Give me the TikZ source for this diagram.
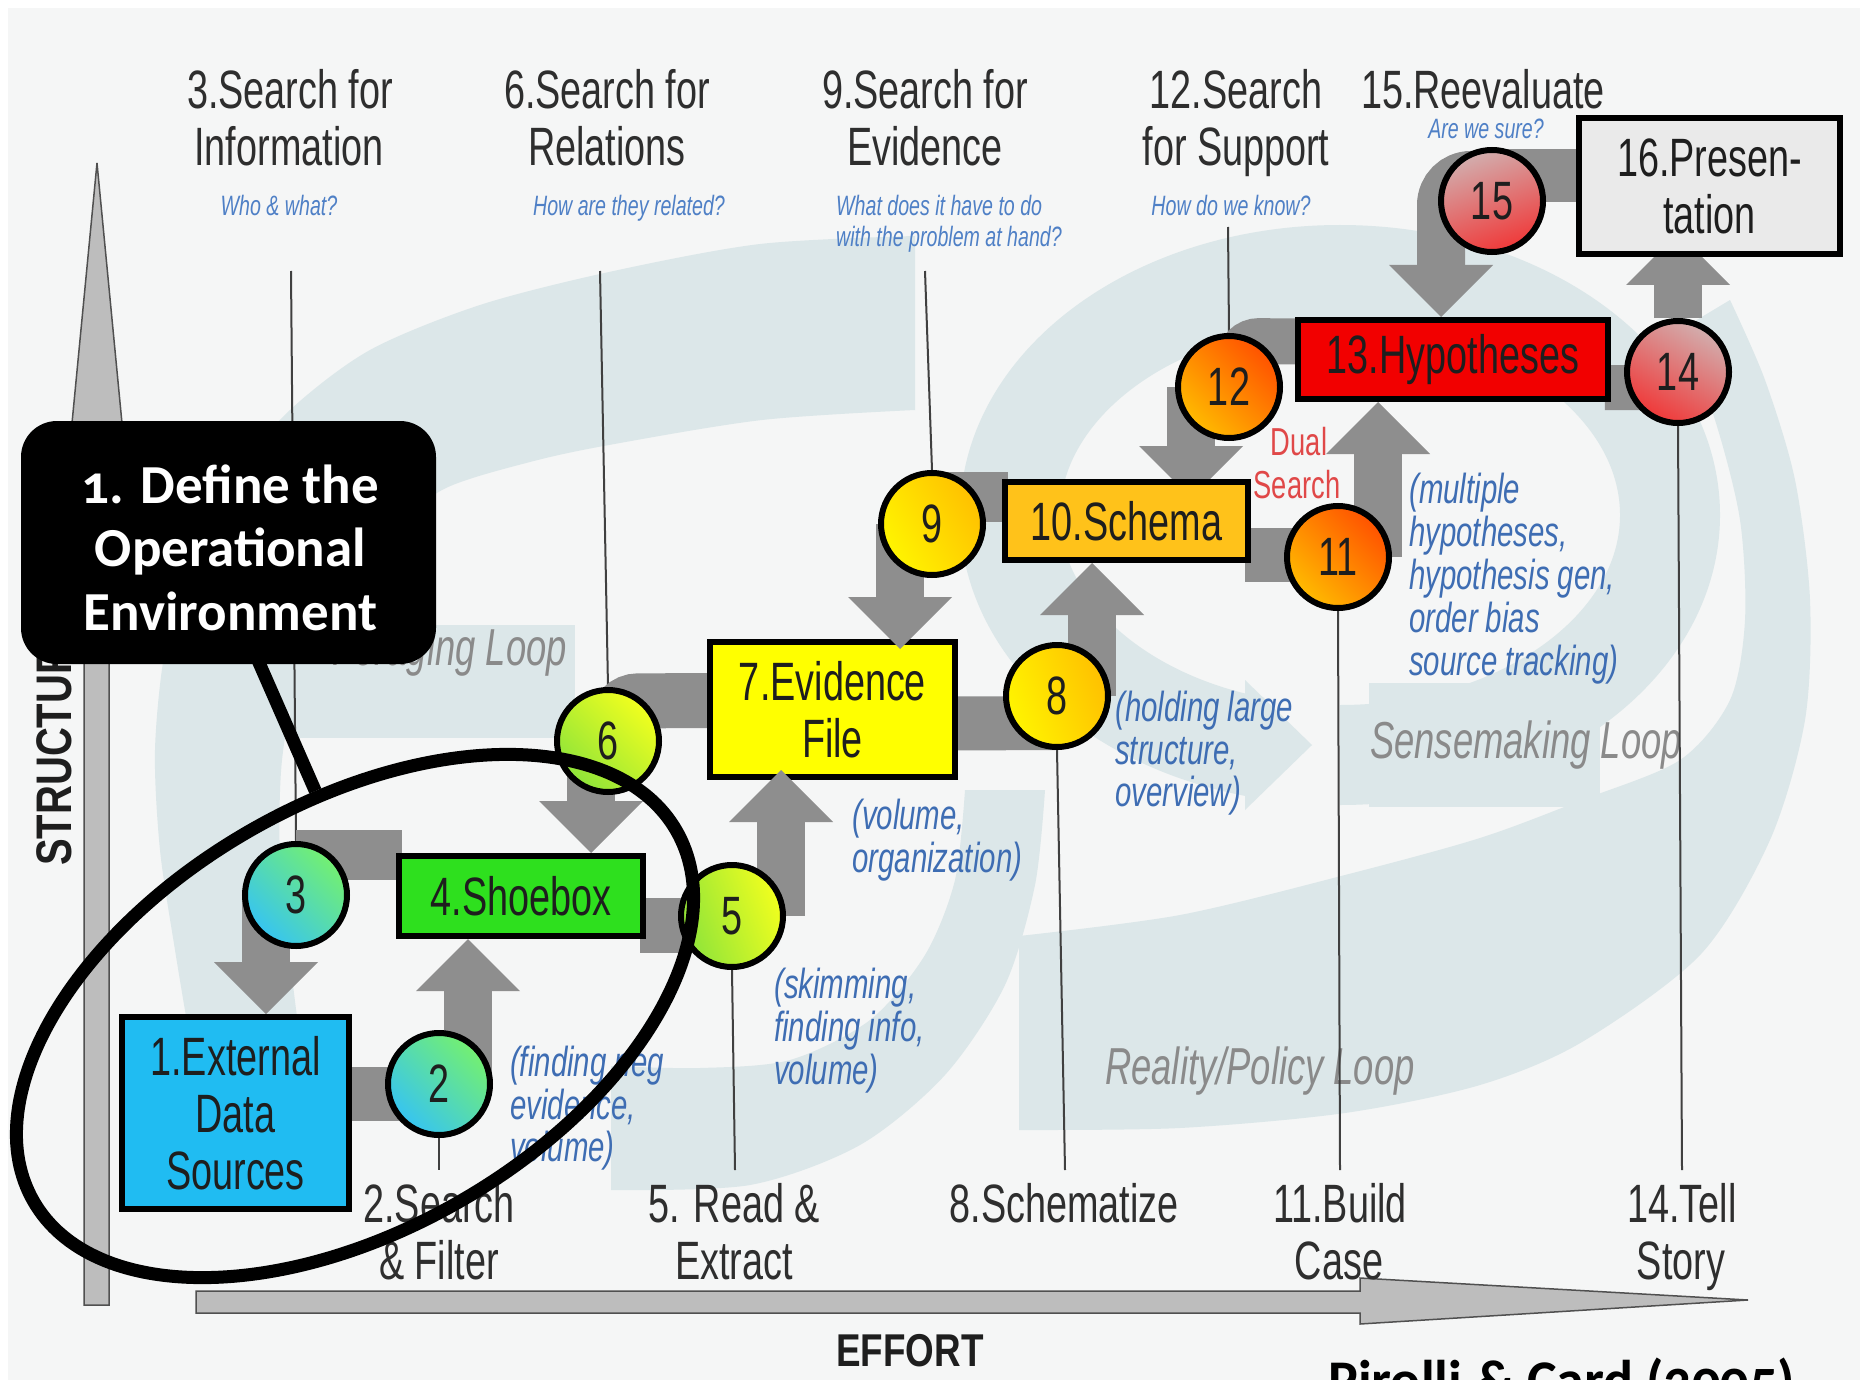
\documentclass[tikz,border=0pt]{standalone}
\usepackage{fontspec}
\setmainfont{Liberation Sans}
\newfontfamily\condf[FakeStretch=0.70]{Liberation Sans}
\newfontfamily\condbf[FakeStretch=0.80]{Liberation Sans}
\newfontfamily\calib[Numbers=OldStyle]{Carlito}
\usetikzlibrary{arrows.meta,calc,shapes.geometric}
\pgfdeclarelayer{back}
\pgfdeclarelayer{conn}
\pgfdeclarelayer{circ}
\pgfdeclarelayer{front}
\pgfsetlayers{back,conn,main,circ,front}
\definecolor{bgc}{HTML}{F5F6F6}
\definecolor{bandc}{HTML}{DCE7E9}
\definecolor{gconn}{HTML}{8E8E8E}
\definecolor{axisc}{HTML}{BDBDBD}
\definecolor{axd}{HTML}{505050}
\definecolor{hdrc}{HTML}{2E2E2E}
\definecolor{txtc}{HTML}{1E1E1E}
\definecolor{qblue}{HTML}{4F80C6}
\definecolor{ablue}{HTML}{3E6DB3}
\definecolor{loopc}{HTML}{8A8A8A}
\definecolor{dualc}{HTML}{E04848}
\definecolor{lnc}{HTML}{404040}
\definecolor{b1c}{HTML}{20BCF2}
\definecolor{b4c}{HTML}{2EE01E}
\definecolor{b7c}{HTML}{FFFF00}
\definecolor{b10c}{HTML}{FFC21A}
\definecolor{b13c}{HTML}{F20000}
\definecolor{b16c}{HTML}{EAEAEA}
\definecolor{cA1}{HTML}{74F070}
\definecolor{cA2}{HTML}{36C4F2}
\definecolor{cB1}{HTML}{F2FF1E}
\definecolor{cB2}{HTML}{8EE43A}
\definecolor{cC1}{HTML}{FFC000}
\definecolor{cC2}{HTML}{FFF500}
\definecolor{cD1}{HTML}{FF5200}
\definecolor{cD2}{HTML}{FFBB00}
\definecolor{cE1}{HTML}{D2AEAE}
\definecolor{cE2}{HTML}{F03838}
\begin{document}
\begin{tikzpicture}[x=1pt,y=-1pt,
  hdr/.style={font=\condf\fontsize{54}{57}\selectfont, text=hdrc, inner sep=0pt, anchor=base},
  qst/.style={font=\condf\itshape\fontsize{28}{30}\selectfont, text=qblue, inner sep=0pt, anchor=base},
  ann/.style={font=\condf\itshape\fontsize{42}{43}\selectfont, text=ablue, inner sep=0pt, anchor=base west},
  looptxt/.style={font=\condf\itshape\fontsize{52}{54}\selectfont, text=loopc, inner sep=0pt},
  boxn/.style={draw=black, line width=6pt, rectangle, inner sep=0pt, font=\condf\fontsize{54}{57}\selectfont, text=txtc, align=center},
  circn/.style={draw=black, line width=6pt, circle, minimum size=102pt, inner sep=0pt, font=\condf\fontsize{54}{57}\selectfont, text=txtc},
  gbar/.style={draw=gconn},
  garr/.style={draw=gconn, line width=48pt, -{Triangle[width=104pt,length=52pt,line width=0pt]}},
  thinl/.style={draw=lnc, line width=2pt}
]
\useasboundingbox (0,0) rectangle (1860,1380);

% ---------- boxes ----------
\node[boxn, fill=b1c, minimum width=227pt, minimum height=192pt] (b1) at (235.5,1113) {1.External\\Data\\Sources};
\node[boxn, fill=b4c, minimum width=244pt, minimum height=80pt] (b4) at (521,896) {4.Shoebox};
\node[boxn, fill=b7c, minimum width=245pt, minimum height=135pt] (b7) at (832.5,709.5) {7.Evidence\\File};
\node[boxn, fill=b10c, minimum width=243pt, minimum height=78pt] (b10) at (1126.5,521) {10.Schema};
\node[boxn, fill=b13c, minimum width=310pt, minimum height=79pt] (b13) at (1453,359.5) {13.Hypotheses};
\node[boxn, fill=b16c, minimum width=261pt, minimum height=136pt] (b16) at (1709.5,186) {16.Presen-\\tation};

% ---------- circles ----------
\begin{pgfonlayer}{circ}
\node[circn, top color=cA1, bottom color=cA2, shading angle=-45] (c2) at (439,1084) {2};
\node[circn, top color=cA1, bottom color=cA2, shading angle=-45] (c3) at (296,895) {3};
\node[circn, top color=cB1, bottom color=cB2, shading angle=-70] (c5) at (732,916) {5};
\node[circn, top color=cB1, bottom color=cB2, shading angle=-45] (c6) at (608,741) {6};
\node[circn, top color=cC1, bottom color=cC2, shading angle=-70] (c8) at (1057,696) {8};
\node[circn, top color=cC1, bottom color=cC2, shading angle=-60] (c9) at (932,524) {9};
\node[circn, top color=cD1, bottom color=cD2, shading angle=-45] (c11) at (1338,557) {11};
\node[circn, top color=cD1, bottom color=cD2, shading angle=-45] (c12) at (1229,387) {12};
\node[circn, top color=cE1, bottom color=cE2, shading angle=-30] (c14) at (1678,372) {14};
\node[circn, top color=cE1, bottom color=cE2, shading angle=20] (c15) at (1492,201) {15};
\end{pgfonlayer}

% ---------- background, bands, axes, thin lines ----------
\begin{pgfonlayer}{back}
\fill[white] (0,0) rectangle (1860,1380);
\fill[bgc] (8,8) rectangle (1860,1380);
% foraging top arc
\fill[bandc] plot[smooth] coordinates {(915,236) (760,244) (609,272) (480,305) (370,350) (290,410) (230,480) (190,560) (165,650) (155,750) (160,850) (175,950) (190,1040)}
  -- plot[smooth] coordinates {(300,1040) (290,960) (280,860) (282,760) (300,670) (340,590) (390,530) (446,488) (530,462) (609,445) (762,420) (915,410)} -- cycle;
% foraging tail
\fill[bandc] (290,625) rectangle (575,738);
% lower foraging band
\fill[bandc] plot[smooth] coordinates {(611,1190) (750,1185) (860,1145) (945,1075) (1005,985) (1035,885) (1045,790)}
  -- plot[smooth] coordinates {(965,790) (955,880) (925,955) (870,1020) (790,1060) (700,1068) (611,1066)} -- cycle;
% sensemaking ring
\draw[bandc, line width=100pt] (1340,515) ++(-90:330pt and 240pt) arc[start angle=-90, end angle=255, x radius=330pt, y radius=240pt];
\fill[bandc] (1369,683) rectangle (1600,807);
\fill[bandc] (1245,680) -- (1312,745) -- (1245,810) -- cycle;
% reality / policy band
\fill[bandc] plot[smooth] coordinates {(1019,1130) (1180,1128) (1345,1113) (1480,1085) (1582,1042) (1701,954) (1770,840) (1805,720) (1810,600) (1795,480) (1765,380) (1730,300)}
  -- plot[smooth] coordinates {(1680,330) (1715,420) (1740,520) (1745,620) (1730,700) (1680,760) (1582,800) (1480,838) (1345,875) (1180,915) (1019,936)} -- cycle;
% loop labels
\node[looptxt, anchor=base east] (lpf) at (567,665) {Foraging Loop};
\node[looptxt, anchor=base west] (lps) at (1370,758) {Sensemaking Loop};
\node[looptxt, anchor=base west] (lpr) at (1105,1084) {Reality/Policy Loop};
% axes
\filldraw[fill=axisc, draw=axd, line width=1.5pt] (97,163) -- (139,600) -- (109,600) -- (109,1305) -- (84,1305) -- (84,600) -- (55,600) -- cycle;
\filldraw[fill=axisc, draw=axd, line width=1.5pt] (196,1291) -- (1360,1291) -- (1360,1278) -- (1748,1300) -- (1360,1324) -- (1360,1313) -- (196,1313) -- cycle;
% thin lines
\coordinate (t3) at (291,271);
\coordinate (t6) at (600,271);
\coordinate (t9) at (925,271);
\coordinate (t12) at (1228,227);
\coordinate (u2) at (439,1170);
\coordinate (u5) at (735,1170);
\coordinate (u8) at (1065,1170);
\coordinate (u11) at (1340,1170);
\coordinate (u14) at (1682,1170);
\draw[thinl] (t3) -- (c3.north);
\draw[thinl] (t6) -- (c6.north);
\draw[thinl] (t9) -- (c9.north);
\draw[thinl] (t12) -- (c12.north);
\draw[thinl] (c2.south) -- (u2);
\draw[thinl] (c5.south) -- (u5);
\draw[thinl] (c8.south) -- (u8);
\draw[thinl] (c11.south) -- (u11);
\draw[thinl] (c14.south) -- (u14);
\end{pgfonlayer}

% ---------- grey connectors ----------
\begin{pgfonlayer}{conn}
\draw[gbar, line width=54pt] ($(b1.east)+(-6,-19)$) -- ($(c2)+(0,10)$);
\draw[gbar, line width=50pt] ($(c3)+(0,-40)$) -- ($(b4.west)+(6,-41)$);
\draw[gbar, line width=55pt] ($(b4.east)+(-6,29)$) -- ($(c5)+(0,9)$);
\draw[gbar, line width=55pt, rounded corners=22pt] ($(c6)+(8,0)$) -- ($(c6)+(8,-40)$) -- ($(b7.west)+(6,-9)$);
\draw[gbar, line width=54pt] ($(b7.east)+(-6,14)$) -- ($(c8)+(0,27)$);
\draw[gbar, line width=50pt] ($(c9)+(0,-27)$) -- ($(b10.west)+(6,-24)$);
\draw[gbar, line width=54pt] ($(b10.east)+(-6,34)$) -- ($(c11)+(0,-2)$);
\draw[gbar, line width=46pt, rounded corners=20pt] ($(c12)+(10,0)$) -- ($(c12)+(10,-46)$) -- ($(b13.west)+(6,-18)$);
\draw[gbar, line width=45pt] ($(b13.east)+(-6,28)$) -- ($(c14)+(0,16)$);
\draw[gbar, line width=53pt] ($(c15)+(0,-25)$) -- ($(b16.west)+(6,-10)$);
% arrows
\coordinate (s3) at ($(c3)+(-30,0)$);
\draw[garr] (s3) -- (s3 |- b1.north);
\coordinate (s2) at ($(c2)+(29,-5)$);
\draw[garr] (s2) -- (s2 |- b4.south);
\coordinate (s6) at ($(c6)+(-17,0)$);
\draw[garr] (s6) -- (s6 |- b4.north);
\coordinate (s8) at ($(c8)+(35,0)$);
\draw[garr] (s8) -- (s8 |- b10.south);
\coordinate (s12) at ($(c12)+(-38,0)$);
\coordinate (e12) at ($(s12 |- b10.north)+(0,19)$);
\draw[garr] (s12) -- (e12);
\coordinate (s11) at ($(c11)+(40,0)$);
\draw[garr] (s11) -- (s11 |- b13.south);
\coordinate (s15) at ($(c15)+(0,-26)$);
\coordinate (s15b) at ($(c15)+(-51,-26)$);
\draw[garr, rounded corners=30pt] (s15) -- (s15b) -- (s15b |- b13.north);
\coordinate (e14) at ($(c14 |- b16.south)+(0,-24)$);
\draw[garr] (c14) -- (e14);
\end{pgfonlayer}

% arrows drawn over box 7
\coordinate (s9) at ($(c9)+(-32,0)$);
\coordinate (e9) at ($(s9 |- b7.north)+(0,10)$);
\draw[garr] (s9) -- (e9);
\coordinate (s5) at ($(c5)+(49,0)$);
\coordinate (e5) at ($(s5 |- b7.south)+(0,-10)$);
\draw[garr] (s5) -- (e5);

% ---------- header texts ----------
\node[hdr] (h3a) at (290,109) {3.Search for};
\node[hdr] (h3b) at (289,166) {Information};
\node[hdr] (h6a) at (607,109) {6.Search for};
\node[hdr] (h6b) at (607,166) {Relations};
\node[hdr] (h9a) at (925,109) {9.Search for};
\node[hdr] (h9b) at (925,166) {Evidence};
\node[hdr] (h12a) at (1236,109) {12.Search};
\node[hdr] (h12b) at (1236,166) {for Support};
\node[hdr] (h15) at (1483,109) {15.Reevaluate};
\node[qst] (q3) at (279,216) {Who \& what?};
\node[qst] (q6) at (629,216) {How are they related?};
\node[qst, anchor=base west] (q9a) at (836,216) {What does it have to do};
\node[qst, anchor=base west] (q9b) at (836,247) {with the problem at hand?};
\node[qst] (q12) at (1231,216) {How do we know?};
\node[qst] (q15) at (1486,139) {Are we sure?};

% ---------- bottom labels ----------
\node[hdr] (l2a) at (439,1222) {2.Search};
\node[hdr] (l2b) at (439,1279) {\& Filter};
\node[hdr] (l5a) at (734,1222) {5. Read \&};
\node[hdr] (l5b) at (734,1279) {Extract};
\node[hdr] (l8) at (1064,1222) {8.Schematize};
\node[hdr] (l11a) at (1340,1222) {11.Build};
\node[hdr] (l11b) at (1339,1279) {Case};
\node[hdr] (l14a) at (1682,1222) {14.Tell};
\node[hdr] (l14b) at (1681,1279) {Story};

% ---------- annotations ----------
\node[ann] (a2a) at (510,1076) {(finding neg};
\node[ann] (a2b) at (510,1119) {evidence,};
\node[ann] (a2c) at (510,1161) {volume)};
\node[ann] (a5a) at (774,998) {(skimming,};
\node[ann] (a5b) at (774,1041) {finding info,};
\node[ann] (a5c) at (774,1084) {volume)};
\node[ann] (a7a) at (852,829) {(volume,};
\node[ann] (a7b) at (852,872) {organization)};
\node[ann] (a8a) at (1115,721) {(holding large};
\node[ann] (a8b) at (1115,764) {structure,};
\node[ann] (a8c) at (1115,806) {overview)};
\node[ann] (a11a) at (1409,503) {(multiple};
\node[ann] (a11b) at (1409,546) {hypotheses,};
\node[ann] (a11c) at (1409,589) {hypothesis gen,};
\node[ann] (a11d) at (1409,632) {order bias};
\node[ann] (a11e) at (1409,675) {source tracking)};
\node[font=\condf\fontsize{39}{40}\selectfont, text=dualc, anchor=base, inner sep=0pt] (dual1) at (1299,455) {Dual};
\node[font=\condf\fontsize{39}{40}\selectfont, text=dualc, anchor=base, inner sep=0pt] (dual2) at (1297,498) {Search};

% ---------- axis labels ----------
\node[font=\condbf\bfseries\fontsize{46}{48}\selectfont, text=txtc, anchor=base, inner sep=0pt] (effort) at (910,1366) {EFFORT};
\node[font=\condbf\bfseries\fontsize{50}{52}\selectfont, text=txtc, anchor=base west, rotate=90, inner sep=0pt] (struct) at (71,866) {STRUCTURE};

% ---------- citation ----------
\node[font=\calib\bfseries\fontsize{56}{60}\selectfont, text=black, anchor=base west, inner sep=0pt] (cite) at (1328,1399) {Pirolli \& Card (2005)};

% ---------- callout ----------
\begin{pgfonlayer}{front}
\node[draw, ellipse, line width=13pt, minimum width=742pt, minimum height=426pt, inner sep=0pt, rotate=30] (ring) at (355,1016) {};
\node[fill=black, rounded corners=36pt, minimum width=415pt, minimum height=243pt, inner sep=0pt] (def) at (228.5,542.5) {};
\node[align=center, text=white, inner sep=0pt, font=\calib\bfseries\fontsize{55}{63.5}\selectfont] (deftxt) at ($(def.center)+(2,5)$) {1. Define the\\Operational\\Environment};
\draw[line width=13pt, black] ($(def.south)+(29,-5)$) -- (ring.70);
\end{pgfonlayer}
\end{tikzpicture}
\end{document}
